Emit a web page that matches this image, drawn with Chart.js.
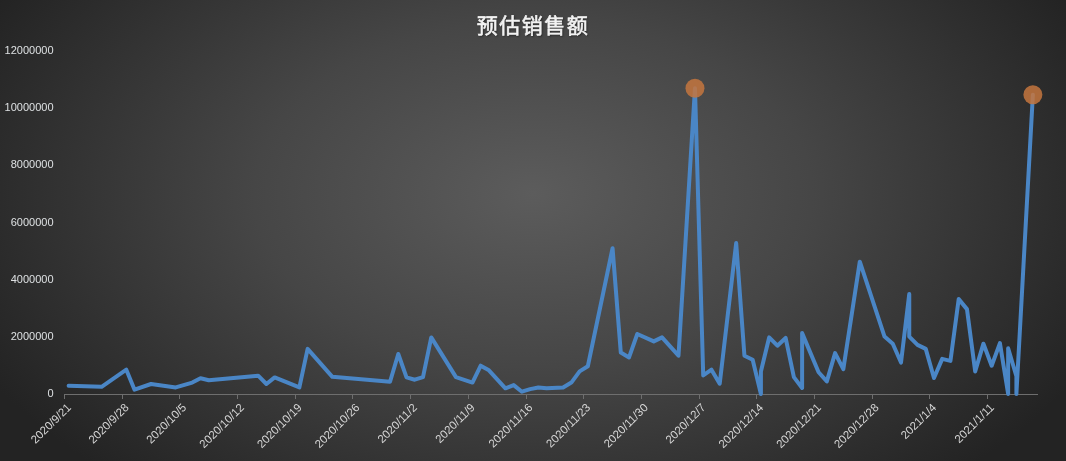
<!DOCTYPE html>
<html>
<head>
<meta charset="utf-8">
<script src="https://cdn.jsdelivr.net/npm/chart.js@4/dist/chart.umd.min.js"></script>
<style>
  html, body { margin: 0; padding: 0; background: #2a2a2a; }
  #wrap { width: 1066px; height: 461px; position: relative; }
</style>
</head>
<body>
<div id="wrap"><canvas id="salesChart" width="1066" height="461"></canvas></div>
<script>
// data
var chartTitle = "预估销售额";
var dates = [
  "2020/9/21", "2020/9/25", "2020/9/28", "2020/9/29", "2020/10/1", "2020/10/4", "2020/10/6", "2020/10/7",
  "2020/10/8", "2020/10/14", "2020/10/15", "2020/10/16", "2020/10/19", "2020/10/20", "2020/10/23", "2020/10/30",
  "2020/10/31", "2020/11/1", "2020/11/2", "2020/11/3", "2020/11/4", "2020/11/7", "2020/11/9", "2020/11/10",
  "2020/11/11", "2020/11/13", "2020/11/14", "2020/11/15", "2020/11/16", "2020/11/17", "2020/11/18", "2020/11/20",
  "2020/11/21", "2020/11/22", "2020/11/23", "2020/11/26", "2020/11/27", "2020/11/28", "2020/11/29", "2020/12/1",
  "2020/12/2", "2020/12/4", "2020/12/6", "2020/12/7", "2020/12/8", "2020/12/9", "2020/12/11", "2020/12/12",
  "2020/12/13", "2020/12/14", "2020/12/14", "2020/12/15", "2020/12/16", "2020/12/17", "2020/12/18", "2020/12/19",
  "2020/12/19", "2020/12/21", "2020/12/22", "2020/12/23", "2020/12/24", "2020/12/26", "2020/12/29", "2020/12/30",
  "2020/12/31", "2021/1/1", "2021/1/1", "2021/1/2", "2021/1/3", "2021/1/4", "2021/1/5", "2021/1/6",
  "2021/1/7", "2021/1/8", "2021/1/9", "2021/1/10", "2021/1/11", "2021/1/12", "2021/1/13", "2021/1/13",
  "2021/1/14", "2021/1/14", "2021/1/16"
];
var sales = [
  290000, 250000, 850000, 150000, 350000, 230000, 400000, 550000,
  480000, 640000, 350000, 580000, 230000, 1580000, 600000, 430000,
  1400000, 580000, 500000, 590000, 1980000, 590000, 400000, 990000,
  830000, 200000, 310000, 80000, 170000, 230000, 200000, 230000,
  400000, 790000, 970000, 5100000, 1450000, 1280000, 2100000, 1840000,
  1980000, 1340000, 10700000, 650000, 850000, 360000, 5280000, 1340000,
  1200000, 0, 790000, 1980000, 1690000, 1960000, 590000, 210000,
  2130000, 760000, 440000, 1430000, 870000, 4630000, 2010000, 1760000,
  1100000, 3500000, 2010000, 1720000, 1580000, 560000, 1230000, 1160000,
  3320000, 2970000, 790000, 1760000, 990000, 1780000, 0, 1600000,
  620000, 0, 10470000
];
var markedDates = ["2020/12/6", "2021/1/16"];
var startDate = "2020/9/21";
var endDate = "2021/1/17";
var yTicks = [0, 2000000, 4000000, 6000000, 8000000, 10000000, 12000000];

function parseDate(s) {
  var p = s.split("/");
  return new Date(+p[0], +p[1] - 1, +p[2]);
}
var t0 = parseDate(startDate);
function dayIndex(s) {
  return Math.round((parseDate(s) - t0) / 86400000);
}
function dayLabel(d) {
  var dt = new Date(t0.getFullYear(), t0.getMonth(), t0.getDate() + d);
  return dt.getFullYear() + "/" + (dt.getMonth() + 1) + "/" + dt.getDate();
}

// points sit in the middle of their day, like Excel's date axis
var points = dates.map(function (d, i) {
  return { x: dayIndex(d) + 0.5, y: sales[i] };
});
var radii = dates.map(function (d, i) {
  return (markedDates.indexOf(d) >= 0 && sales[i] > 5000000) ? 9.5 : 0;
});

var bgPlugin = {
  id: "bg",
  beforeDraw: function (chart) {
    var c = chart.ctx;
    var w = chart.width, h = chart.height;
    c.save();
    c.translate(w * 0.5, h * 0.42);
    c.scale(1, 0.62);
    var g = c.createRadialGradient(0, 0, 0, 0, 0, 620);
    g.addColorStop(0, "#5c5c5c");
    g.addColorStop(0.45, "#464646");
    g.addColorStop(1, "#232323");
    c.fillStyle = g;
    c.fillRect(-w, -h * 2, w * 2, h * 4);
    c.restore();
  }
};

// title drawn by hand so it can sit where Excel put it
var titlePlugin = {
  id: "excelTitle",
  afterDraw: function (chart) {
    var c = chart.ctx;
    c.save();
    c.font = "21px 'Noto Sans CJK SC'";
    c.letterSpacing = "1.5px";
    c.textAlign = "center";
    c.textBaseline = "middle";
    c.shadowColor = "rgba(0,0,0,0.6)";
    c.shadowOffsetX = 1;
    c.shadowOffsetY = 1;
    c.shadowBlur = 2;
    c.fillStyle = "#f2f2f2";
    c.strokeStyle = "#f2f2f2";
    c.lineWidth = 0.6;
    c.fillText(chartTitle, 533, 25);
    c.shadowColor = "transparent";
    c.strokeText(chartTitle, 533, 25);
    c.restore();
  }
};

var ctx = document.getElementById("salesChart").getContext("2d");
var salesChart = new Chart(ctx, {
  type: "line",
  data: {
    datasets: [
      {
        label: chartTitle,
        data: points,
        borderColor: "#4a86c6",
        borderWidth: 4,
        borderJoinStyle: "round",
        borderCapStyle: "round",
        tension: 0,
        fill: false,
        clip: false,
        pointRadius: radii,
        pointHoverRadius: radii,
        pointBackgroundColor: "rgba(196,118,62,0.85)",
        pointBorderWidth: 0,
      },
    ],
  },
  options: {
    responsive: false,
    animation: false,
    layout: { padding: { left: 0, right: 29, top: 51, bottom: 0 } },
    plugins: {
      legend: { display: false },
      tooltip: { enabled: false },
      title: { display: false },
    },
    scales: {
      x: {
        type: "linear",
        min: 0,
        max: dayIndex(endDate),
        grid: { drawOnChartArea: false, drawTicks: true, tickLength: 5, color: "#6e6e6e" },
        border: { color: "#6e6e6e", width: 1 },
        ticks: {
          stepSize: 7,
          autoSkip: false,
          maxRotation: 45,
          minRotation: 45,
          padding: 2,
          labelOffset: 5,
          color: "#d6d6d6",
          font: { family: "'Liberation Sans'", size: 11.5 },
          callback: function (v) { return dayLabel(v); },
        },
        afterBuildTicks: function (scale) {
          scale.ticks = scale.ticks.filter(function (t) { return t.value % 7 === 0; });
        },
        afterFit: function (scale) { scale.height = 67; },
      },
      y: {
        min: yTicks[0],
        max: yTicks[yTicks.length - 1],
        grid: { display: false, drawTicks: false },
        border: { display: false },
        ticks: {
          stepSize: yTicks[1] - yTicks[0],
          padding: 11,
          color: "#dde0e2",
          font: { family: "'Liberation Sans'", size: 11 },
          callback: function (v) { return String(v); },
        },
        afterFit: function (scale) { scale.width = 64.5; },
      },
    },
  },
  plugins: [bgPlugin, titlePlugin],
});
</script>
</body>
</html>
